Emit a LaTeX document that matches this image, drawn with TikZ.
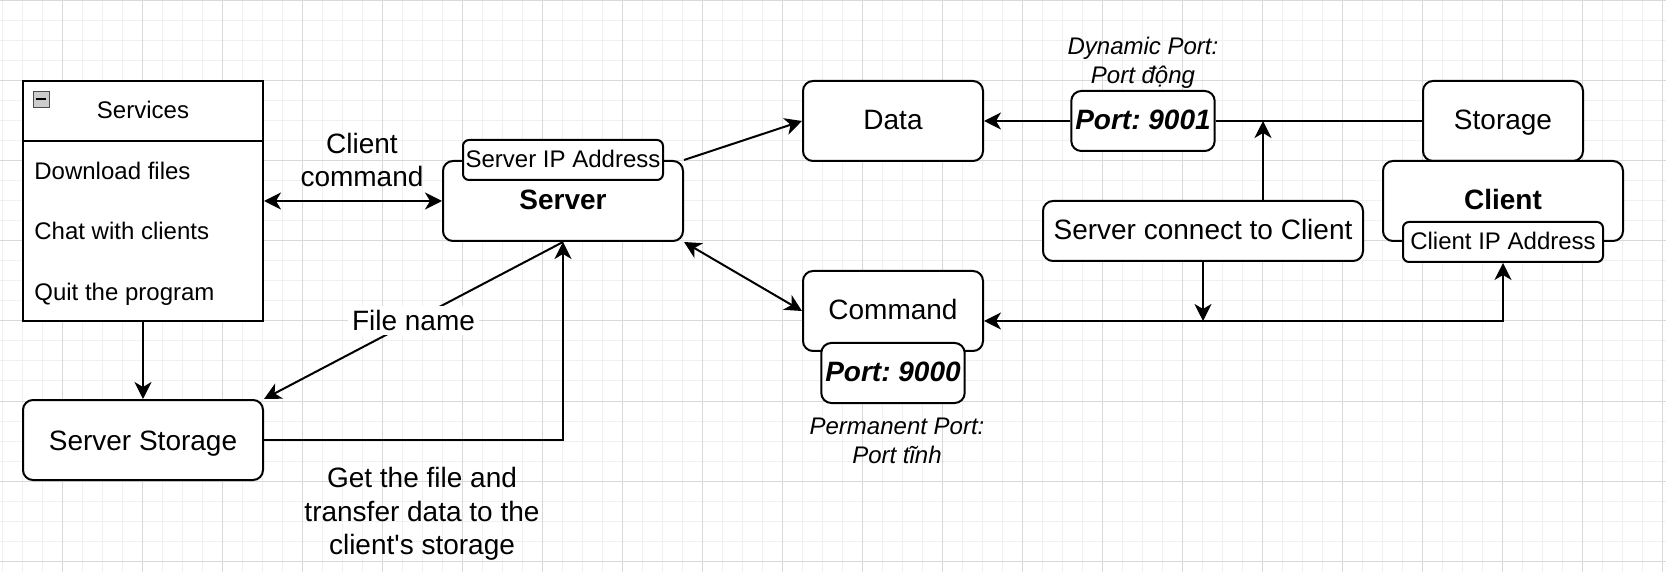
\documentclass[tikz,border=0pt]{standalone}
\usepackage{fontspec}
\setmainfont{Liberation Sans}
\usepackage{tikz}
\usetikzlibrary{positioning,arrows.meta}
\frenchspacing
\newcommand\szsmall{\fontsize{12}{14.4}\selectfont}
\newcommand\szbig{\fontsize{14}{16.8}\selectfont}
\tikzset{>={Stealth[length=8.5pt,width=8.5pt,inset=2.5pt]}}
\tikzstyle{rbox}=[rectangle, rounded corners=5pt, draw=black, fill=white, line width=1pt, inner sep=2pt, text centered, text height=0.86em, text depth=0pt, font=\szbig]
\tikzstyle{ipbox}=[rectangle, rounded corners=3pt, draw=black, fill=white, line width=1pt, minimum width=100pt, minimum height=20pt, inner sep=1pt, text centered, text height=0.8em, text depth=0pt, font=\szsmall]
\tikzstyle{portbox}=[rbox, minimum width=70pt, minimum height=30pt, font=\szbig\bfseries\itshape]
\tikzstyle{listbox}=[rectangle, draw=black, fill=white, line width=1pt, minimum width=120pt, text height=0.8em, text depth=0pt]
\tikzstyle{itemtxt}=[anchor=west, inner sep=0pt, text height=0.8em, text depth=0pt, font=\szsmall]
\tikzstyle{lbl}=[align=center, font=\szbig, inner sep=2pt]
\tikzstyle{note}=[align=center, font=\szsmall\itshape, inner sep=0pt]
\tikzstyle{pline}=[->, line width=1pt]
\tikzstyle{dline}=[<->, line width=1pt]
\tikzstyle{sline}=[-, line width=1pt]
\tikzstyle{gridminor}=[gray!12, line width=0.5pt]
\tikzstyle{gridmajor}=[gray!30, line width=0.5pt]

\begin{document}
\begin{tikzpicture}[x=0.5pt, y=-0.5pt]
\useasboundingbox (0,0) rectangle (1666,572);
\foreach \gx in {2,22,...,1662} \draw[gridminor] (\gx,0) -- (\gx,572);
\foreach \gy in {1,21,...,561} \draw[gridminor] (0,\gy) -- (1666,\gy);
\foreach \gx in {62,142,...,1662} \draw[gridmajor] (\gx,0) -- (\gx,572);
\foreach \gy in {1,81,...,561} \draw[gridmajor] (0,\gy) -- (1666,\gy);

\node (services) [listbox, minimum height=120pt] at (143,201) {};
\node (srvhead) [listbox, minimum height=30pt, anchor=north, font=\szsmall] at (services.north) {Services};
\node (collapse) [rectangle, draw=gray!60!black, fill=gray!40, minimum size=8pt, inner sep=0pt] at (41,99) {};
\draw[line width=1pt] ([xshift=1.5pt]collapse.west) -- ([xshift=-1.5pt]collapse.east);
\node (dl) [itemtxt] at (34,172) {Download files};
\node (chat) [itemtxt] at (34,232) {Chat with clients};
\node (quit) [itemtxt] at (34,292) {Quit the program};
\node (sstorage) [rbox, minimum width=120pt, minimum height=40pt, text height=1.1em] at (143,440) {Server Storage};
\node (server) [rbox, minimum width=120pt, minimum height=40pt, font=\szbig\bfseries] at (563,201) {Server};
\node (serverip) [ipbox] at (server.north) {Server IP Address};
\node (data) [rbox, minimum width=90pt, minimum height=40pt] at (893,121) {Data};
\node (command) [rbox, minimum width=90pt, minimum height=40pt] at (893,311) {Command};
\node (port9000) [portbox, below=-5pt of command] {Port: 9000};
\node (port9001) [portbox] at (1143,121) {Port: 9001};
\node (storage) [rbox, minimum width=80pt, minimum height=40pt] at (1503,121) {Storage};
\node (client) [rbox, minimum width=120pt, minimum height=40pt, font=\szbig\bfseries] at (1503,201) {Client};
\node (clientip) [ipbox] at (client.south) {Client IP Address};
\node (sconnect) [rbox, minimum width=160pt, minimum height=30pt] at (1203,231) {Server connect to Client};

\node (cmdlbl) [lbl] at (362,160) {Client\\command};
\node (getlbl) [lbl] at (422,514) {Get the file and\\transfer data to the\\client\textquotesingle s storage};
\node (dynlbl) [note] at (1143,63) {Dynamic Port:\\Port động};
\node (permlbl) [note] at (897,441) {Permanent Port:\\Port tĩnh};

\draw[dline] (services.east) -- (server.west);
\draw[pline] (services.south) -- (sstorage.north);
\draw[pline] (server.south) -- node[lbl, fill=white] {File name} (sstorage.north east);
\draw[pline] (sstorage.east) -| (server.south);
\draw[pline] (server.north east) -- (data.west);
\draw[dline] (server.south east) -- (command.west);
\draw[pline] (port9001.west) -- (data.east);
\draw[sline] (storage.west) -- (port9001.east);
\coordinate (upfoot) at ([xshift=30pt]sconnect.north);
\draw[pline] (upfoot) -- (upfoot |- storage.west);
\coordinate (cmdin) at ([yshift=-5pt]command.east);
\draw[dline] (cmdin) -| (clientip.south);
\draw[pline] (sconnect.south) -- (sconnect.south |- cmdin);
\end{tikzpicture}
\end{document}
